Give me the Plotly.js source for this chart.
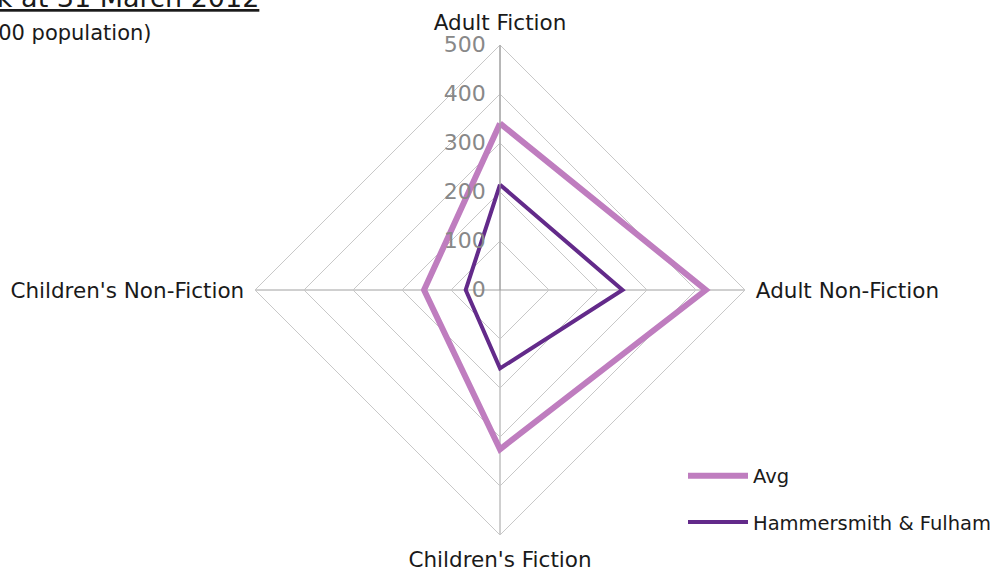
<!DOCTYPE html>
<html>
<head>
<meta charset="utf-8">
<script src="https://cdn.plot.ly/plotly-3.0.1.min.js"></script>
<style>html,body{margin:0;padding:0;background:#fff;}#chart{width:1000px;height:572px;}</style>
</head>
<body>
<div id="chart"></div>
<script>
var categories = ["Adult Fiction", "Adult Non-Fiction", "Children's Fiction", "Children's Non-Fiction"];
var avgValues = [340, 420, 325, 155];
var hfValues = [215, 250, 160, 70];
var radialTicks = [0, 100, 200, 300, 400, 500];

function closed(a) { return a.concat([a[0]]); }

var font = "DejaVu Sans, Verdana, sans-serif";

var traces = [
  {
    type: "scatterpolar", mode: "lines", name: "Avg",
    r: closed(avgValues), theta: closed(categories),
    line: {color: "#BF7DBF", width: 6},
    legendgroup: "a"
  },
  {
    type: "scatterpolar", mode: "lines", name: "Hammersmith & Fulham",
    r: closed(hfValues), theta: closed(categories),
    line: {color: "#632A8A", width: 4},
    legendgroup: "b"
  }
];

var layout = {
  width: 1000, height: 572,
  margin: {l: 0, r: 0, t: 0, b: 0},
  paper_bgcolor: "#fff",
  font: {family: font, color: "#1a1a1a"},
  showlegend: true,
  legend: {
    x: 0.683, y: 0.202, xanchor: "left", yanchor: "top",
    font: {family: font, size: 19.5, color: "#1a1a1a"},
    itemwidth: 60, tracegroupgap: 18,
    bgcolor: "rgba(0,0,0,0)"
  },
  polar: {
    domain: {x: [0.255, 0.745], y: [1 - 535/572, 1 - 45/572]},
    bgcolor: "#fff",
    gridshape: "linear",
    radialaxis: {
      range: [0, 500], tickvals: radialTicks, angle: 90, tickangle: 90,
      side: "counterclockwise",
      showline: true, linecolor: "#a0a0a0", linewidth: 1,
      gridcolor: "#c8c8c8", gridwidth: 1,
      ticks: "outside", ticklen: 6, tickcolor: "rgba(0,0,0,0)",
      tickfont: {family: font, size: 22, color: "#888888"}
    },
    angularaxis: {
      direction: "clockwise", rotation: 90,
      showline: true, linecolor: "#c8c8c8", linewidth: 1,
      gridcolor: "#a0a0a0", gridwidth: 1,
      ticks: "outside", ticklen: 6, tickcolor: "rgba(0,0,0,0)",
      tickfont: {family: font, size: 21.5, color: "#1a1a1a"}
    }
  },
  annotations: [
    {text: "<u>Book Stock at 31 March 2012</u>", xref: "paper", yref: "paper",
     x: 0.261, y: 1 + 3/572, xanchor: "right", yanchor: "middle", showarrow: false,
     font: {family: font, size: 27, color: "#1a1a1a"}},
    {text: "(per 1,000 population)", xref: "paper", yref: "paper",
     x: 0.154, y: 1 - 33/572, xanchor: "right", yanchor: "middle", showarrow: false,
     font: {family: font, size: 21, color: "#1a1a1a"}}
  ]
};

Plotly.newPlot("chart", traces, layout, {displayModeBar: false, staticPlot: true});
</script>
</body>
</html>
